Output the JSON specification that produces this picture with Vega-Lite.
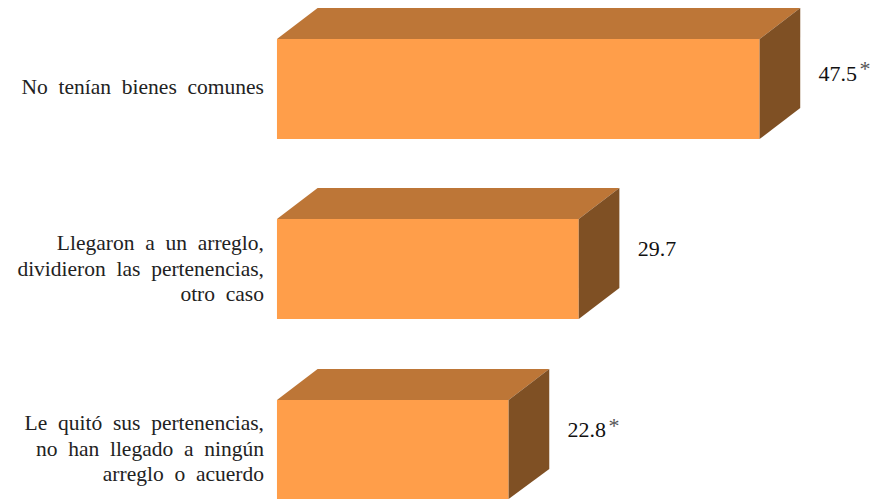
{
"$schema":"https://vega.github.io/schema/vega-lite/v6.json",
"width":881,"height":499,"padding":0,
"autosize":{"type":"fit","contains":"padding"},
"background":"white",
"config":{"view":{"stroke":null}},
"datasets":{
"faces":[
{"category":"No tenían bienes comunes","face":"front","x":0,"top":0,"bottom":1},
{"category":"No tenían bienes comunes","face":"front","x":47.5,"top":0,"bottom":1},
{"category":"No tenían bienes comunes","face":"top","x":0,"top":0,"bottom":0},
{"category":"No tenían bienes comunes","face":"top","x":4,"top":-0.31,"bottom":0},
{"category":"No tenían bienes comunes","face":"top","x":47.5,"top":-0.31,"bottom":0},
{"category":"No tenían bienes comunes","face":"top","x":51.5,"top":-0.31,"bottom":-0.31},
{"category":"No tenían bienes comunes","face":"side","x":47.5,"top":0,"bottom":1},
{"category":"No tenían bienes comunes","face":"side","x":51.5,"top":-0.31,"bottom":0.69},
{"category":"Llegaron a un arreglo","face":"front","x":0,"top":1.8,"bottom":2.8},
{"category":"Llegaron a un arreglo","face":"front","x":29.7,"top":1.8,"bottom":2.8},
{"category":"Llegaron a un arreglo","face":"top","x":0,"top":1.8,"bottom":1.8},
{"category":"Llegaron a un arreglo","face":"top","x":4,"top":1.49,"bottom":1.8},
{"category":"Llegaron a un arreglo","face":"top","x":29.7,"top":1.49,"bottom":1.8},
{"category":"Llegaron a un arreglo","face":"top","x":33.7,"top":1.49,"bottom":1.49},
{"category":"Llegaron a un arreglo","face":"side","x":29.7,"top":1.8,"bottom":2.8},
{"category":"Llegaron a un arreglo","face":"side","x":33.7,"top":1.49,"bottom":2.49},
{"category":"Le quitó sus pertenencias","face":"front","x":0,"top":3.61,"bottom":4.6},
{"category":"Le quitó sus pertenencias","face":"front","x":22.8,"top":3.61,"bottom":4.6},
{"category":"Le quitó sus pertenencias","face":"top","x":0,"top":3.61,"bottom":3.61},
{"category":"Le quitó sus pertenencias","face":"top","x":4,"top":3.3,"bottom":3.61},
{"category":"Le quitó sus pertenencias","face":"top","x":22.8,"top":3.3,"bottom":3.61},
{"category":"Le quitó sus pertenencias","face":"top","x":26.8,"top":3.3,"bottom":3.3},
{"category":"Le quitó sus pertenencias","face":"side","x":22.8,"top":3.61,"bottom":4.6},
{"category":"Le quitó sus pertenencias","face":"side","x":26.8,"top":3.3,"bottom":4.3}
],
"labels":[
{"label":"No\u00a0 tenían\u00a0 bienes\u00a0 comunes","value":47.5,"text":"47.5","note":"*","labelY":0.55,"valueY":0.42,"noteY":0.37},
{"label":"Llegaron\u00a0 a\u00a0 un\u00a0 arreglo,\ndividieron\u00a0 las\u00a0 pertenencias,\notro\u00a0 caso","value":29.7,"text":"29.7","note":"","labelY":2.11,"valueY":2.17,"noteY":2.12},
{"label":"Le\u00a0 quitó\u00a0 sus\u00a0 pertenencias,\nno\u00a0 han\u00a0 llegado\u00a0 a\u00a0 ningún\narreglo\u00a0 o\u00a0 acuerdo","value":22.8,"text":"22.8","note":"*","labelY":3.91,"valueY":3.98,"noteY":3.94}
]
},
"layer":[
{"data":{"name":"faces"},
"mark":{"type":"area","orient":"vertical","interpolate":"linear"},
"encoding":{
"x":{"field":"x","type":"quantitative","scale":{"domain":[-27.26,59.45],"nice":false,"zero":false},"axis":null},
"y":{"field":"top","type":"quantitative","scale":{"domain":[-0.39,4.6],"reverse":true,"nice":false,"zero":false},"axis":null},
"y2":{"field":"bottom"},
"color":{"field":"face","type":"nominal","scale":{"domain":["front","top","side"],"range":["#FF9E4A","#BD7637","#7F5024"]},"legend":null},
"detail":{"field":"category"}
}},
{"data":{"name":"labels"},
"mark":{"type":"text","align":"right","baseline":"alphabetic","dx":-13,"font":"Liberation Serif","fontSize":21.5,"lineBreak":"\n","lineHeight":25.5,"color":"#222222"},
"encoding":{
"x":{"datum":0,"type":"quantitative"},
"y":{"field":"labelY","type":"quantitative"},
"text":{"field":"label"}
}},
{"data":{"name":"labels"},
"mark":{"type":"text","align":"left","baseline":"alphabetic","dx":59,"font":"Liberation Serif","fontSize":22,"color":"#111111"},
"encoding":{
"x":{"field":"value","type":"quantitative"},
"y":{"field":"valueY","type":"quantitative"},
"text":{"field":"text"}
}},
{"data":{"name":"labels"},
"mark":{"type":"text","align":"left","baseline":"alphabetic","dx":100,"font":"Liberation Serif","fontSize":22,"color":"#555555"},
"encoding":{
"x":{"field":"value","type":"quantitative"},
"y":{"field":"noteY","type":"quantitative"},
"text":{"field":"note"}
}}
]
}
